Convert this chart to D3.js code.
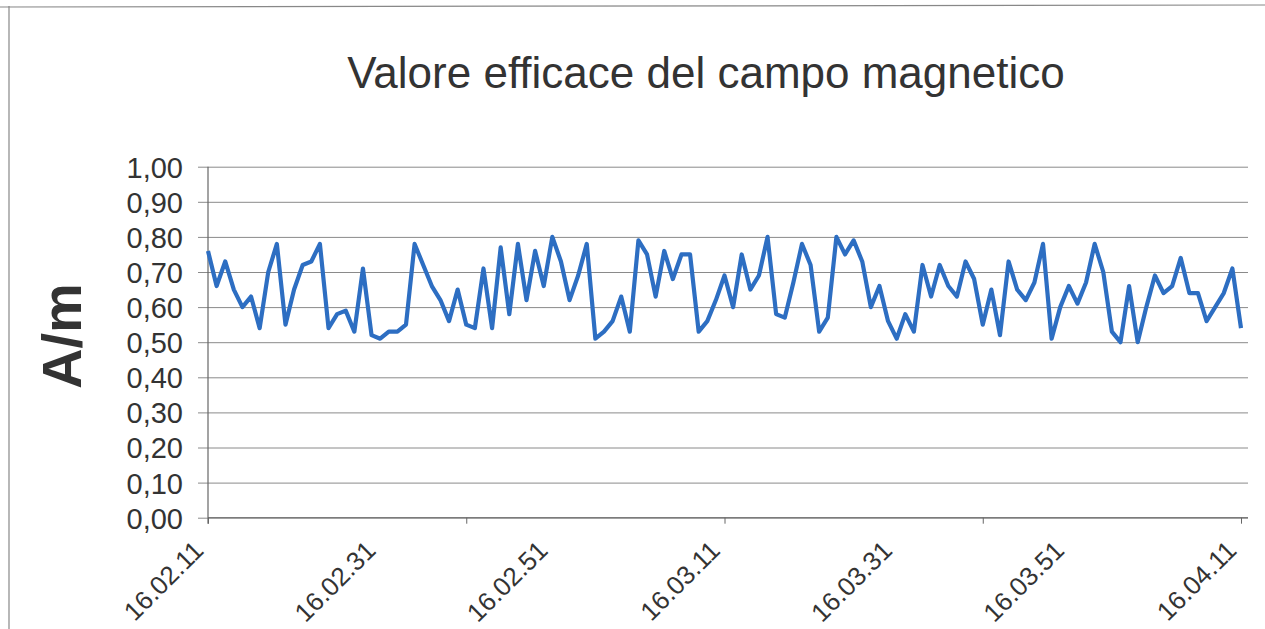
<!DOCTYPE html>
<html lang="it">
<head>
  <meta charset="UTF-8">
  <title>Valore efficace del campo magnetico</title>
  <script src="https://d3js.org/d3.v7.min.js"></script>
  <style>
    body { margin: 0; background: #fff; }
    text { font-family: "Liberation Sans", Arial, sans-serif; fill: #333; }
  </style>
</head>
<body>
<div id="chart"></div>
<script>
  // one reading per second, 16.02.11 -> 16.04.11
  const values = [
    0.76, 0.66, 0.73, 0.65, 0.60, 0.63, 0.54, 0.70, 0.78, 0.55,
    0.65, 0.72, 0.73, 0.78, 0.54, 0.58, 0.59, 0.53, 0.71, 0.52,
    0.51, 0.53, 0.53, 0.55, 0.78, 0.72, 0.66, 0.62, 0.56, 0.65,
    0.55, 0.54, 0.71, 0.54, 0.77, 0.58, 0.78, 0.62, 0.76, 0.66,
    0.80, 0.73, 0.62, 0.69, 0.78, 0.51, 0.53, 0.56, 0.63, 0.53,
    0.79, 0.75, 0.63, 0.76, 0.68, 0.75, 0.75, 0.53, 0.56, 0.62,
    0.69, 0.60, 0.75, 0.65, 0.69, 0.80, 0.58, 0.57, 0.67, 0.78,
    0.72, 0.53, 0.57, 0.80, 0.75, 0.79, 0.73, 0.60, 0.66, 0.56,
    0.51, 0.58, 0.53, 0.72, 0.63, 0.72, 0.66, 0.63, 0.73, 0.68,
    0.55, 0.65, 0.52, 0.73, 0.65, 0.62, 0.67, 0.78, 0.51, 0.60,
    0.66, 0.61, 0.67, 0.78, 0.70, 0.53, 0.50, 0.66, 0.50, 0.60,
    0.69, 0.64, 0.66, 0.74, 0.64, 0.64, 0.56, 0.60, 0.64, 0.71,
    0.54
  ];
  const labelIndex = [0, 20, 40, 60, 80, 100, 120];
  const labelText = ["16.02.11", "16.02.31", "16.02.51", "16.03.11", "16.03.31", "16.03.51", "16.04.11"];
  const tickMarkIndex = [0, 30, 60, 90, 120];
  const yTicks = [0, 0.1, 0.2, 0.3, 0.4, 0.5, 0.6, 0.7, 0.8, 0.9, 1.0];

  const width = 1265, height = 629;
  const plotLeft = 208, plotRight = 1241, plotTop = 166.7, plotBottom = 517.7;

  const svg = d3.select("#chart").append("svg")
    .attr("width", width).attr("height", height);

  // frame of the scanned chart
  svg.append("line").attr("x1", 0).attr("x2", width).attr("y1", 7).attr("y2", 5)
    .attr("stroke", "#888").attr("stroke-width", 1.2);
  svg.append("line").attr("x1", 9).attr("x2", 9).attr("y1", 6).attr("y2", height)
    .attr("stroke", "#888").attr("stroke-width", 1.2);

  const x = d3.scaleLinear().domain([0, values.length - 1]).range([plotLeft, plotRight]);
  const y = d3.scaleLinear().domain([0, 1]).range([plotBottom, plotTop]);

  // gridlines + y labels
  const yAxis = svg.append("g")
    .attr("transform", "translate(198,0)")
    .call(d3.axisLeft(y).tickValues(yTicks).tickSize(-(1248 - 198)).tickPadding(15)
      .tickFormat(d => d3.format(".2f")(d).replace(".", ",")));
  yAxis.select(".domain").remove();
  yAxis.selectAll(".tick line").attr("stroke", "#8a8a8a").attr("stroke-width", 1);
  yAxis.selectAll(".tick text").style("font-size", "29px").attr("fill", "#333").attr("dy", "0.36em");

  // axis lines
  svg.append("line").attr("x1", plotLeft).attr("x2", plotLeft).attr("y1", plotTop).attr("y2", plotBottom + 6)
    .attr("stroke", "#666").attr("stroke-width", 1.2);
  const xAxis = svg.append("g")
    .attr("transform", `translate(0,${plotBottom})`)
    .call(d3.axisBottom(x).tickValues(tickMarkIndex).tickSize(6).tickFormat(""));
  xAxis.select(".domain").attr("stroke", "#666").attr("d", `M${plotLeft},0H1248`);
  xAxis.selectAll(".tick line").attr("stroke", "#666");

  // rotated time labels
  svg.selectAll(".xlab")
    .data(labelIndex)
    .enter().append("text")
    .attr("class", "xlab")
    .attr("transform", (d) => `translate(${x(d) - 3},552) rotate(-45)`)
    .attr("text-anchor", "end")
    .style("font-size", "26px")
    .text((d, i) => labelText[i]);

  // series
  const line = d3.line().x((d, i) => x(i)).y(d => y(d));
  svg.append("path")
    .datum(values)
    .attr("fill", "none")
    .attr("stroke", "#2d6ec2")
    .attr("stroke-width", 4.2)
    .attr("stroke-linejoin", "round")
    .attr("d", line);

  // title
  svg.append("text")
    .attr("x", 706).attr("y", 88)
    .attr("text-anchor", "middle")
    .style("font-size", "44px")
    .text("Valore efficace del campo magnetico");

  // y axis title
  svg.append("text")
    .attr("transform", "translate(81,336) rotate(-90)")
    .attr("text-anchor", "middle")
    .style("font-size", "56px")
    .style("font-weight", "bold")
    .text("A/m");
</script>
</body>
</html>
